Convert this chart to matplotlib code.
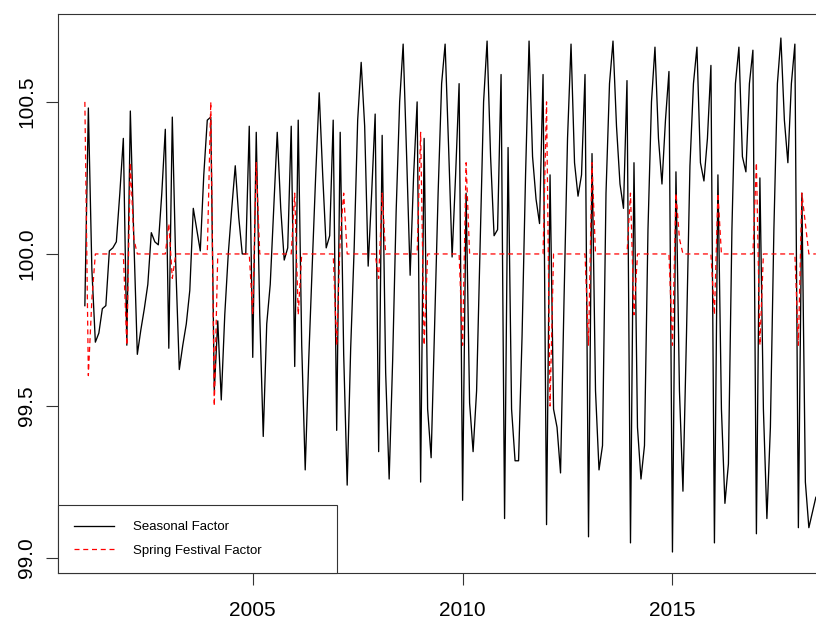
import numpy as np
import matplotlib
matplotlib.use("Agg")
import matplotlib.pyplot as plt

plt.rcParams['font.family'] = ['Liberation Sans', 'DejaVu Sans']

# monthly series, first value = Jan 2001
start_year = 2001

seasonal = [
    99.83, 100.48, 99.95, 99.71, 99.74, 99.82, 99.83, 100.01, 100.02, 100.04, 100.20, 100.38,   # 2001
    99.70, 100.47, 100.05, 99.67, 99.75, 99.82, 99.90, 100.07, 100.04, 100.03, 100.20, 100.41,  # 2002
    99.69, 100.45, 99.96, 99.62, 99.70, 99.77, 99.88, 100.15, 100.08, 100.01, 100.26, 100.44,   # 2003
    100.45, 99.55, 99.78, 99.52, 99.80, 100.00, 100.15, 100.29, 100.12, 100.00, 100.00, 100.42, # 2004
    99.66, 100.40, 99.80, 99.40, 99.77, 99.90, 100.15, 100.40, 100.15, 99.98, 100.02, 100.42,   # 2005
    99.63, 100.44, 99.70, 99.29, 99.65, 99.96, 100.26, 100.53, 100.26, 100.02, 100.06, 100.44,  # 2006
    99.42, 100.40, 99.67, 99.24, 99.69, 100.02, 100.44, 100.63, 100.42, 99.96, 100.20, 100.46,  # 2007
    99.35, 100.39, 99.61, 99.26, 99.65, 100.14, 100.50, 100.69, 100.32, 99.93, 100.26, 100.50,  # 2008
    99.25, 100.38, 99.49, 99.33, 99.77, 100.20, 100.56, 100.69, 100.35, 99.99, 100.26, 100.56,  # 2009
    99.19, 100.20, 99.51, 99.35, 99.55, 100.02, 100.50, 100.70, 100.32, 100.06, 100.08, 100.59, # 2010
    99.13, 100.35, 99.49, 99.32, 99.32, 99.73, 100.26, 100.70, 100.32, 100.18, 100.10, 100.59,  # 2011
    99.11, 100.26, 99.49, 99.43, 99.28, 99.85, 100.38, 100.69, 100.30, 100.19, 100.26, 100.59,  # 2012
    99.07, 100.33, 99.55, 99.29, 99.37, 100.20, 100.56, 100.70, 100.42, 100.23, 100.15, 100.57, # 2013
    99.05, 100.30, 99.43, 99.26, 99.37, 100.08, 100.50, 100.68, 100.38, 100.23, 100.44, 100.60, # 2014
    99.02, 100.27, 99.55, 99.22, 99.73, 100.29, 100.56, 100.68, 100.30, 100.24, 100.38, 100.62, # 2015
    99.05, 100.26, 99.49, 99.18, 99.31, 100.08, 100.56, 100.68, 100.32, 100.27, 100.56, 100.67, # 2016
    99.08, 100.25, 99.49, 99.13, 99.43, 100.08, 100.56, 100.71, 100.44, 100.30, 100.56, 100.69, # 2017
    99.10, 100.20, 99.25, 99.10, 99.15, 99.20,                                                  # 2018
]

spring_festival = [
    100.5, 99.6, 99.85, 100.0, 100.0, 100.0, 100.0, 100.0, 100.0, 100.0, 100.0, 100.0,   # 2001
    99.7, 100.3, 100.05, 100.0, 100.0, 100.0, 100.0, 100.0, 100.0, 100.0, 100.0, 100.0,  # 2002
    100.1, 99.92, 100.0, 100.0, 100.0, 100.0, 100.0, 100.0, 100.0, 100.0, 100.0, 100.0,  # 2003
    100.5, 99.5, 100.0, 100.0, 100.0, 100.0, 100.0, 100.0, 100.0, 100.0, 100.0, 100.0,   # 2004
    99.8, 100.3, 100.0, 100.0, 100.0, 100.0, 100.0, 100.0, 100.0, 100.0, 100.0, 100.0,   # 2005
    100.2, 99.8, 100.0, 100.0, 100.0, 100.0, 100.0, 100.0, 100.0, 100.0, 100.0, 100.0,   # 2006
    99.7, 100.05, 100.2, 100.0, 100.0, 100.0, 100.0, 100.0, 100.0, 100.0, 100.0, 100.0,  # 2007
    99.92, 100.2, 100.0, 100.0, 100.0, 100.0, 100.0, 100.0, 100.0, 100.0, 100.0, 100.0,  # 2008
    100.4, 99.7, 100.0, 100.0, 100.0, 100.0, 100.0, 100.0, 100.0, 100.0, 100.0, 100.0,   # 2009
    99.7, 100.3, 100.0, 100.0, 100.0, 100.0, 100.0, 100.0, 100.0, 100.0, 100.0, 100.0,   # 2010
    100.0, 100.0, 100.0, 100.0, 100.0, 100.0, 100.0, 100.0, 100.0, 100.0, 100.0, 100.0,  # 2011
    100.5, 99.5, 100.0, 100.0, 100.0, 100.0, 100.0, 100.0, 100.0, 100.0, 100.0, 100.0,   # 2012
    99.7, 100.3, 100.0, 100.0, 100.0, 100.0, 100.0, 100.0, 100.0, 100.0, 100.0, 100.0,   # 2013
    100.2, 99.8, 100.0, 100.0, 100.0, 100.0, 100.0, 100.0, 100.0, 100.0, 100.0, 100.0,   # 2014
    99.7, 100.2, 100.05, 100.0, 100.0, 100.0, 100.0, 100.0, 100.0, 100.0, 100.0, 100.0,  # 2015
    99.8, 100.2, 100.0, 100.0, 100.0, 100.0, 100.0, 100.0, 100.0, 100.0, 100.0, 100.0,   # 2016
    100.3, 99.7, 100.0, 100.0, 100.0, 100.0, 100.0, 100.0, 100.0, 100.0, 100.0, 100.0,   # 2017
    99.7, 100.2, 100.1, 100.0, 100.0, 100.0,                                             # 2018
]

x_ticks = [2005, 2010, 2015]
y_ticks = [99.0, 99.5, 100.0, 100.5]
labels = ["Seasonal Factor", "Spring Festival Factor"]

# decimal-year time index, like an R ts with frequency 12
t = start_year + np.arange(len(seasonal)) / 12.0

fig = plt.figure(figsize=(8.16, 6.22), dpi=100)
ax = fig.add_axes([58 / 816, 49 / 622, 758 / 816, 559 / 622])

ax.plot(t, seasonal, color="black", lw=0.95, label=labels[0])
ax.plot(t, spring_festival, color="red", lw=0.9, linestyle=(0, (4, 3)), label=labels[1])

ax.set_xlim(2000.36, 2018.42)
ax.set_ylim(98.951, 100.789)
ax.set_xticks(x_ticks)
ax.set_xticklabels([str(v) for v in x_ticks])
ax.set_yticks(y_ticks)
ax.set_yticklabels([f"{v:.1f}" for v in y_ticks], rotation=90, va="center")

ax.tick_params(axis="both", direction="out", length=8.5, width=0.8, colors="#333333",
               labelcolor="black", labelsize=15)
ax.tick_params(axis="x", pad=12)
ax.tick_params(axis="y", pad=7)

for side in ["left", "bottom", "top"]:
    ax.spines[side].set_color("#333333")
    ax.spines[side].set_linewidth(0.8)
ax.spines["right"].set_visible(False)

leg = ax.legend(loc="lower left", bbox_to_anchor=(0, 0, 279 / 758, 68 / 559), mode="expand",
                borderaxespad=0, fontsize=9.5, fancybox=False, edgecolor="#333333",
                framealpha=1, borderpad=1.25, handlelength=3.0, handletextpad=1.44,
                labelspacing=0.83)
leg.get_frame().set_linewidth(0.8)

fig.savefig("out.png", dpi=100)
